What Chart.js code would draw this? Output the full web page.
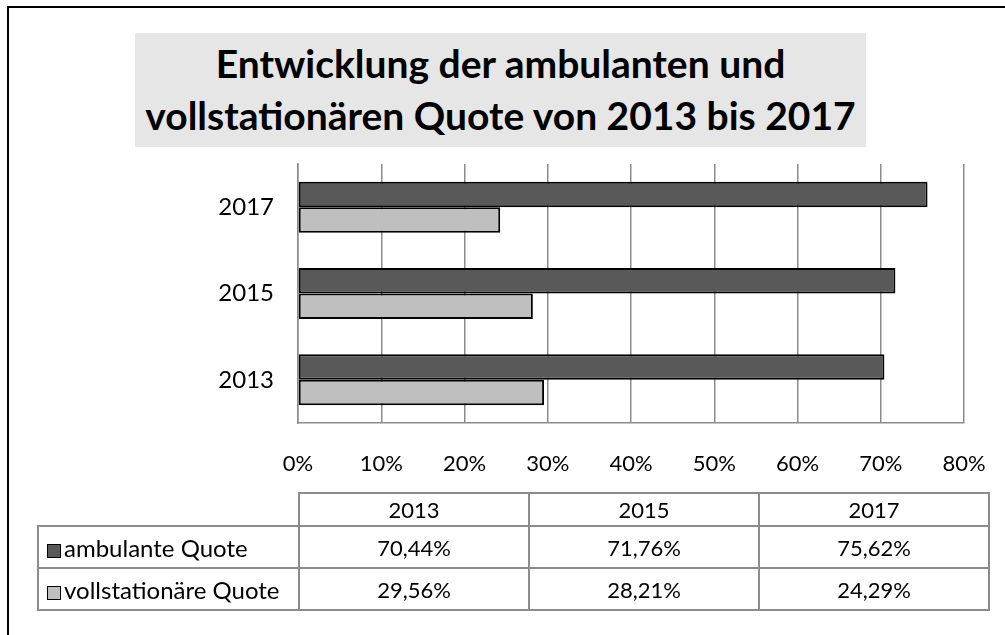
<!DOCTYPE html>
<html lang="de">
<head>
<meta charset="utf-8">
<title>Entwicklung der ambulanten und vollstationären Quote</title>
<script src="https://cdn.jsdelivr.net/npm/chart.js@4"></script>
<style>
  body { margin: 0; background: #fff; }
  #wrap { position: relative; width: 1005px; height: 635px; overflow: hidden; font-family: Lato, "Open Sans", sans-serif; }
  #frame { position: absolute; left: 7px; top: 6px; width: 1100px; height: 700px; border-left: 2px solid #000; border-top: 2px solid #000; }
  #chart { position: absolute; left: 0; top: 0; }
  #title {
    position: absolute; left: 135px; top: 33px; width: 731px; height: 110px; padding-top: 4px;
    background: #e6e6e6; text-align: center; font-weight: bold; font-size: 39px; line-height: 52px; color: #000;
  }
  #datatable {
    position: absolute; left: 37px; top: 492px; border-collapse: collapse; table-layout: fixed;
    font-size: 22px; color: #000;
  }
  #datatable td { border: 2px solid #8c8c8c; text-align: center; padding: 0; white-space: nowrap; }
  #datatable tr.head td { height: 31px; }
  #datatable tr.row td { height: 40px; }
  #datatable td.corner { border-top: none; border-left: none; }
  #datatable td.name { text-align: left; padding-left: 8px; font-size: 24px; }
  .marker { display: inline-block; width: 12px; height: 12px; border: 1px solid #000; margin-right: 3px; vertical-align: -1px; }
</style>
</head>
<body>
<div id="wrap">
  <div id="frame"></div>
  <canvas id="chart" width="1005" height="635"></canvas>
  <div id="title">Entwicklung der ambulanten und<br>vollstationären Quote von 2013 bis 2017</div>
  <table id="datatable"></table>
</div>
<script>
// Data
const years = ['2013', '2015', '2017'];
const ambulanteQuote = [70.44, 71.76, 75.62];
const vollstationaereQuote = [29.56, 28.21, 24.29];
const seriesNames = ['ambulante Quote', 'vollstationäre Quote'];
const seriesColors = ['#595959', '#bfbfbf'];
const xMin = 0;
const xMax = 80;
const xStep = 10;

function formatPercent(v) {
    return v.toFixed(2).replace('.', ',') + '%';
}

// Bar chart
const ctx = document.getElementById('chart').getContext('2d');
new Chart(ctx, {
    type: 'bar',
    data: {
        labels: years,
        datasets: [
            {
                label: seriesNames[0],
                data: ambulanteQuote,
                backgroundColor: seriesColors[0],
                borderColor: '#000',
                borderWidth: 2,
                borderSkipped: false
            },
            {
                label: seriesNames[1],
                data: vollstationaereQuote,
                backgroundColor: seriesColors[1],
                borderColor: '#000',
                borderWidth: 2,
                borderSkipped: false
            }
        ]
    },
    options: {
        indexAxis: 'y',
        responsive: false,
        animation: false,
        devicePixelRatio: 1,
        layout: {
            padding: { left: 198, right: 41, top: 164, bottom: 152 }
        },
        categoryPercentage: 0.59,
        barPercentage: 1.0,
        plugins: {
            legend: { display: false },
            tooltip: { enabled: false },
            title: { display: false }
        },
        scales: {
            x: {
                min: xMin,
                max: xMax,
                ticks: {
                    stepSize: xStep,
                    padding: 0,
                    color: '#000',
                    font: { family: 'Lato', size: 22 },
                    callback: (v) => v + '%'
                },
                // invisible tick marks only push the labels down
                grid: { color: '#8c8c8c', lineWidth: 1.5, drawTicks: true, tickLength: 28, tickColor: 'rgba(0,0,0,0)' },
                border: { display: true, color: '#8c8c8c', width: 1.5 },
                afterFit: (scale) => { scale.height = 60; }
            },
            y: {
                reverse: true,
                ticks: {
                    padding: 0,
                    color: '#000',
                    font: { family: 'Lato', size: 24 }
                },
                grid: { display: false, drawTicks: true, tickLength: 24 },
                border: { display: true, color: '#8c8c8c', width: 1.5 },
                afterFit: (scale) => { scale.width = 100; }
            }
        }
    }
});

// Data table below the chart
const table = document.getElementById('datatable');
const colWidths = [261, 230, 230, 230];
const colgroup = document.createElement('colgroup');
colWidths.forEach(w => {
    const col = document.createElement('col');
    col.style.width = w + 'px';
    colgroup.appendChild(col);
});
table.appendChild(colgroup);

const head = document.createElement('tr');
head.className = 'head';
const corner = document.createElement('td');
corner.className = 'corner';
head.appendChild(corner);
years.forEach(y => {
    const td = document.createElement('td');
    td.textContent = y;
    head.appendChild(td);
});
table.appendChild(head);

[ambulanteQuote, vollstationaereQuote].forEach((values, i) => {
    const tr = document.createElement('tr');
    tr.className = 'row';
    const name = document.createElement('td');
    name.className = 'name';
    const marker = document.createElement('span');
    marker.className = 'marker';
    marker.style.background = seriesColors[i];
    name.appendChild(marker);
    name.appendChild(document.createTextNode(seriesNames[i]));
    tr.appendChild(name);
    values.forEach(v => {
        const td = document.createElement('td');
        td.textContent = formatPercent(v);
        tr.appendChild(td);
    });
    table.appendChild(tr);
});
</script>
</body>
</html>
